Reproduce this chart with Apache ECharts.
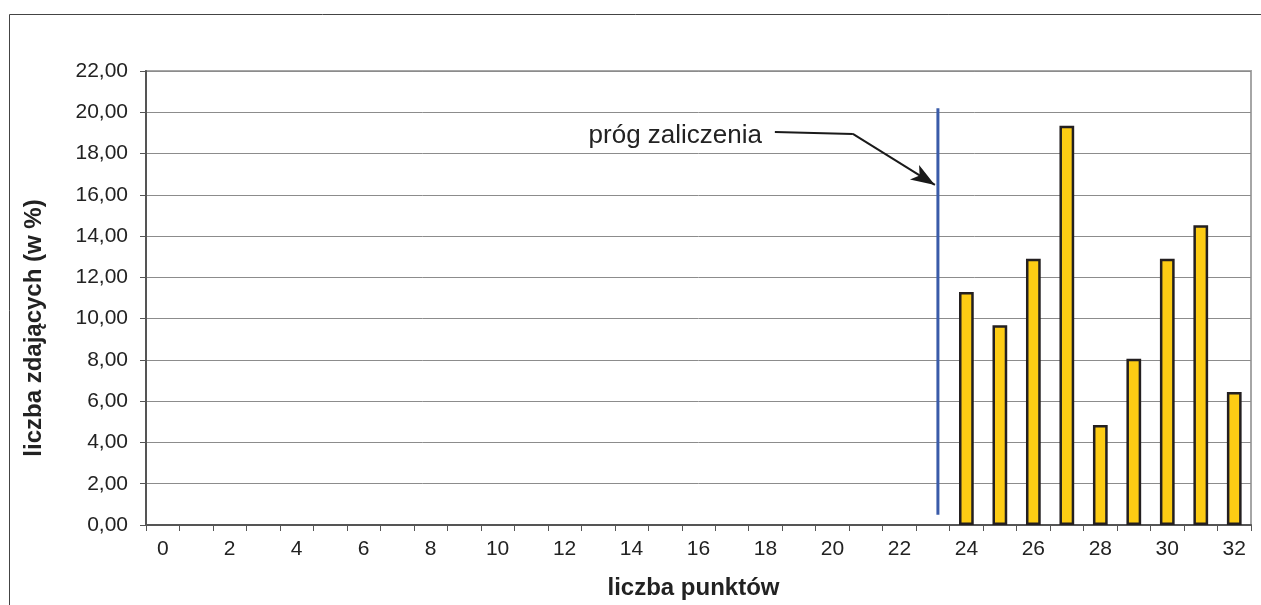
<!DOCTYPE html>
<html>
<head>
<meta charset="utf-8">
<script src="https://cdn.jsdelivr.net/npm/echarts@6/dist/echarts.min.js"></script>
<style>
html,body{margin:0;padding:0;background:#fff;}
#chart{width:1261px;height:605px;}
</style>
</head>
<body>
<div id="chart"></div>
<script>
// ---- data ----
const categories = ['0','1','2','3','4','5','6','7','8','9','10','11','12','13','14','15','16','17','18','19','20','21','22','23','24','25','26','27','28','29','30','31','32'];
const percentages = [0,0,0,0,0,0,0,0,0,0,0,0,0,0,0,0,0,0,0,0,0,0,0,0,11.29,9.68,12.90,19.35,4.84,8.06,12.90,14.52,6.45];
const yTicks = [0,2,4,6,8,10,12,14,16,18,20,22];
const thresholdLine = [[23.15, 0.5], [23.15, 20.2]];
const arrowPath = [[18.28, 19.04], [20.61, 18.95]];
const arrowHead = [[20.61, 18.95], [23.06, 16.48]];
const annotationText = 'próg zaliczenia';
const xTitle = 'liczba punktów';
const yTitle = 'liczba zdających (w %)';

const FONT = '"Liberation Sans", Arial, sans-serif';
const chart = echarts.init(document.getElementById('chart'), null, {renderer: 'canvas'});

chart.setOption({
  animation: false,
  backgroundColor: '#fff',
  grid: {left: 146, right: 10, top: 71, bottom: 80, show: true, borderColor: '#a6a6a6', borderWidth: 2, backgroundColor: 'transparent'},
  xAxis: [{
    type: 'category',
    data: categories,
    boundaryGap: true,
    axisLine: {onZero: false, lineStyle: {color: '#555', width: 2}},
    axisTick: {show: true, interval: 0, alignWithLabel: false, length: 6, lineStyle: {color: '#555', width: 1}},
    axisLabel: {interval: 1, margin: 14, color: '#222', fontSize: 21, fontFamily: FONT},
    splitLine: {show: false},
    name: xTitle,
    nameLocation: 'middle',
    nameGap: 51,
    nameTextStyle: {fontSize: 24, fontWeight: 'bold', color: '#222', fontFamily: FONT, padding: [0, 10, 0, 0]}
  }, {
    type: 'value',
    min: -0.5,
    max: 32.5,
    show: false
  }],
  yAxis: {
    type: 'value',
    min: yTicks[0],
    max: yTicks[yTicks.length - 1],
    interval: 2,
    axisLine: {show: true, onZero: false, lineStyle: {color: '#555', width: 2}},
    axisTick: {show: true, length: 6, lineStyle: {color: '#555', width: 1}},
    axisLabel: {margin: 18, color: '#222', fontSize: 21, fontFamily: FONT,
      formatter: v => v.toFixed(2).replace('.', ',')},
    splitLine: {show: true, lineStyle: {color: '#8c8c8c', width: 1}},
    name: yTitle,
    nameLocation: 'middle',
    nameGap: 100,
    nameRotate: 90,
    nameTextStyle: {fontSize: 24, fontWeight: 'bold', color: '#222', fontFamily: FONT, padding: [0, 60, 0, 0]}
  },
  series: [{
    type: 'bar',
    xAxisIndex: 0,
    data: percentages.map(v => v === 0 ? '-' : v),
    barWidth: '44%',
    itemStyle: {color: '#FDCC14', borderColor: '#231f20', borderWidth: 2.5},
    silent: true
  }, {
    type: 'line',
    xAxisIndex: 1,
    data: thresholdLine,
    symbol: 'none',
    lineStyle: {color: '#3A5BA9', width: 3},
    silent: true,
    z: 5
  }, {
    type: 'line',
    xAxisIndex: 1,
    data: arrowPath,
    symbol: 'none',
    lineStyle: {color: '#1a1a1a', width: 2},
    silent: true,
    z: 6,
    markLine: {
      silent: true,
      symbol: ['none', 'arrow'],
      symbolSize: [13, 24],
      label: {show: false},
      lineStyle: {color: '#1a1a1a', width: 2, type: 'solid'},
      data: [[{coord: arrowHead[0]}, {coord: arrowHead[1]}]]
    }
  }],
  graphic: [{
    type: 'rect',
    shape: {x: 9.5, y: 14.5, width: 1400, height: 800},
    style: {fill: 'none', stroke: '#444', lineWidth: 1},
    silent: true,
    z: -10
  }, {
    type: 'text',
    x: 762,
    y: 136,
    style: {text: annotationText, fill: '#222', font: '26px ' + FONT, textAlign: 'right', textVerticalAlign: 'middle'},
    silent: true
  }]
});
</script>
</body>
</html>
